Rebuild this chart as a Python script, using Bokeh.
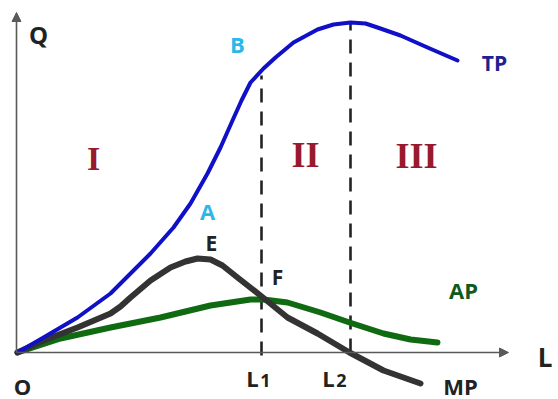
from bokeh.plotting import figure
from bokeh.models import Range1d, Arrow, NormalHead, Label
from bokeh.embed import file_html
from bokeh.resources import INLINE

# Total product curve (labour L, output Q)
tp_L = [0, 26, 60, 93, 106, 133, 156, 173, 190, 203, 215, 224, 233, 246, 258, 276, 300, 316, 333, 348, 360, 383, 410, 440]
tp_Q = [0, 15, 35, 59, 72, 99, 125, 149, 179, 205, 232, 252, 270, 284, 295, 310, 323, 328, 330, 329, 325, 317, 305, 292]

# Marginal product curve
mp_L = [0, 26, 60, 93, 103, 113, 133, 153, 168, 180, 193, 205, 220, 243, 270, 300, 332, 366, 403]
mp_Q = [0, 12, 25, 39, 46, 55, 72, 85, 91, 94, 93, 87, 75, 57, 35, 19, 0, -18, -31]

# Average product curve
ap_L = [0, 43, 93, 143, 193, 233, 246, 270, 303, 332, 366, 393, 420]
ap_Q = [0, 14, 25, 35, 47, 53, 53, 50, 40, 30, 19, 13, 10]

# Stage boundaries
L1 = 244
L2 = 333
tp_at_L1 = 277
tp_at_L2 = 330

p = figure(width=558, height=399, output_backend="svg", toolbar_location=None,
           x_range=Range1d(-17, 541), y_range=Range1d(-47, 352),
           min_border=0, min_border_left=0, min_border_right=0,
           min_border_top=0, min_border_bottom=0)
p.axis.visible = False
p.grid.visible = False
p.outline_line_color = None
p.background_fill_color = "white"

# axes with arrows
axis_col = "#5a5a5a"
p.add_layout(Arrow(end=NormalHead(size=9, fill_color=axis_col, line_color=axis_col),
                   x_start=-1, y_start=0, x_end=491, y_end=0,
                   line_color=axis_col, line_width=1.6))
p.add_layout(Arrow(end=NormalHead(size=9, fill_color=axis_col, line_color=axis_col),
                   x_start=-1, y_start=0, x_end=-1, y_end=340,
                   line_color=axis_col, line_width=1.6))

# dashed stage boundaries
p.segment(x0=[L1, L2], y0=[-3, 0], x1=[L1, L2], y1=[tp_at_L1, tp_at_L2],
          line_color="#222222", line_width=2.6, line_dash="14 9")

# curves
p.line(ap_L, ap_Q, line_color="#0f6a12", line_width=6, line_cap="round", line_join="round")
p.line(mp_L, mp_Q, line_color="#333333", line_width=6, line_cap="round", line_join="round")
p.line(tp_L, tp_Q, line_color="#1010c8", line_width=4, line_cap="round", line_join="round")

def lab(txt, x, y, color, size, font="Open Sans", style="bold", align="center"):
    p.add_layout(Label(x=x, y=y, text=txt, text_color=color, text_font=font,
                       text_font_size=f"{size}px", text_font_style=style,
                       text_align=align, text_baseline="middle"))

dark = "#222222"
lab("Q", 21, 318, dark, 24)
lab("B", 220, 309, "#2bb8e8", 22)
lab("A", 190, 142, "#2bb8e8", 22)
lab("E", 194, 110, dark, 21)
lab("F", 260, 76, dark, 21)
lab("TP", 477, 290, "#1c2290", 21)
lab("AP", 446, 63, "#0e5a1c", 22)
lab("MP", 443, -33, dark, 22)
lab("O", 5, -33, dark, 22)
lab("L", 535, -4, dark, 26, align="right")
lab("L", L1 - 9, -25, dark, 22)
lab("1", L1 + 4, -28, dark, 18)
lab("L", L2 - 22, -25, dark, 22)
lab("2", L2 - 9, -28, dark, 18)

serif_red = "#981a2e"
lab("I", 76, 194, serif_red, 34, font="Liberation Serif")
lab("II", 288, 198, serif_red, 36, font="Liberation Serif")
lab("III", 399, 197, serif_red, 36, font="Liberation Serif")

open("out.html", "w").write(file_html(p, INLINE))
